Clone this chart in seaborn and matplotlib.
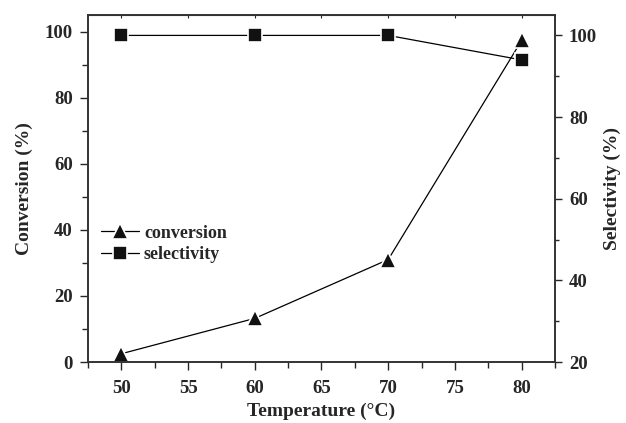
import matplotlib
matplotlib.use("Agg")
import matplotlib.pyplot as plt
from matplotlib.ticker import MultipleLocator
import seaborn as sns
import pandas as pd

temperature = [50, 60, 70, 80]
conversion = [2.5, 13.2, 31.0, 97.3]
selectivity = [100.0, 100.0, 100.0, 94.0]

sns.set_style("ticks")
plt.rcParams['font.family'] = ['Liberation Serif', 'DejaVu Serif']
plt.rcParams['font.weight'] = 'bold'
plt.rcParams['mathtext.default'] = 'regular'

df = pd.DataFrame({"Temperature": temperature, "conversion": conversion,
                   "selectivity": selectivity})

fig, ax = plt.subplots(figsize=(6.26, 4.23), dpi=100)
fig.subplots_adjust(left=88/626, right=555/626, top=1-15/423, bottom=1-362/423)
ax2 = ax.twinx()

sns.lineplot(data=df, x="Temperature", y="conversion", ax=ax, color="black",
             lw=0.9, marker="^", markersize=12, markerfacecolor="#111111",
             markeredgecolor="white", markeredgewidth=1.2, label="conversion",
             legend=False)
sns.lineplot(data=df, x="Temperature", y="selectivity", ax=ax2, color="black",
             lw=0.9, marker="s", markersize=10, markerfacecolor="#111111",
             markeredgecolor="white", markeredgewidth=1.2, label="selectivity",
             legend=False)

ax.set_xlim(47.5, 82.5)
ax.set_ylim(0, 105)
ax2.set_ylim(20, 105)

ax.xaxis.set_major_locator(MultipleLocator(5))
ax.xaxis.set_minor_locator(MultipleLocator(2.5))
ax.yaxis.set_major_locator(MultipleLocator(20))
ax.yaxis.set_minor_locator(MultipleLocator(10))
ax2.yaxis.set_major_locator(MultipleLocator(20))
ax2.yaxis.set_minor_locator(MultipleLocator(10))

tfs = 13.5
lfs = 14
ax.tick_params(axis='both', which='major', length=6, width=1, labelsize=tfs, pad=5)
ax.tick_params(axis='x', which='major', pad=7)
ax.tick_params(axis='both', which='minor', length=4, width=1)
ax2.tick_params(axis='y', which='major', length=5, width=1, labelsize=tfs, pad=5)
ax2.tick_params(axis='y', which='minor', length=3, width=1)

# top ticks small and inward
secx = ax.secondary_xaxis('top')
secx.xaxis.set_major_locator(MultipleLocator(5))
secx.tick_params(axis='x', direction='in', length=2, labeltop=False, width=0.8)
ax.tick_params(axis='x', which='both', top=False)

for a in (ax, ax2):
    for s in a.spines.values():
        s.set_linewidth(1.2)
        s.set_color('#333333')
for lab in ax.get_xticklabels() + ax.get_yticklabels() + ax2.get_yticklabels():
    lab.set_fontweight('bold')

ax.set_xlabel("Temperature (°C)", fontsize=lfs, fontweight='bold', labelpad=4)
ax.set_ylabel("Conversion (%)", fontsize=lfs, fontweight='bold', labelpad=8)
ax2.set_ylabel("Selectivity (%)", fontsize=lfs, fontweight='bold', labelpad=5)

h1, l1 = ax.get_legend_handles_labels()
h2, l2 = ax2.get_legend_handles_labels()
leg = ax.legend(h1 + h2, l1 + l2, loc='center left',
                bbox_to_anchor=(0.0, 0.34), frameon=False,
                prop={'size': 13, 'weight': 'bold'}, handlelength=2.1,
                handletextpad=0.3, labelspacing=0.25, borderaxespad=0.3)

fig.savefig("out.png", dpi=100)
